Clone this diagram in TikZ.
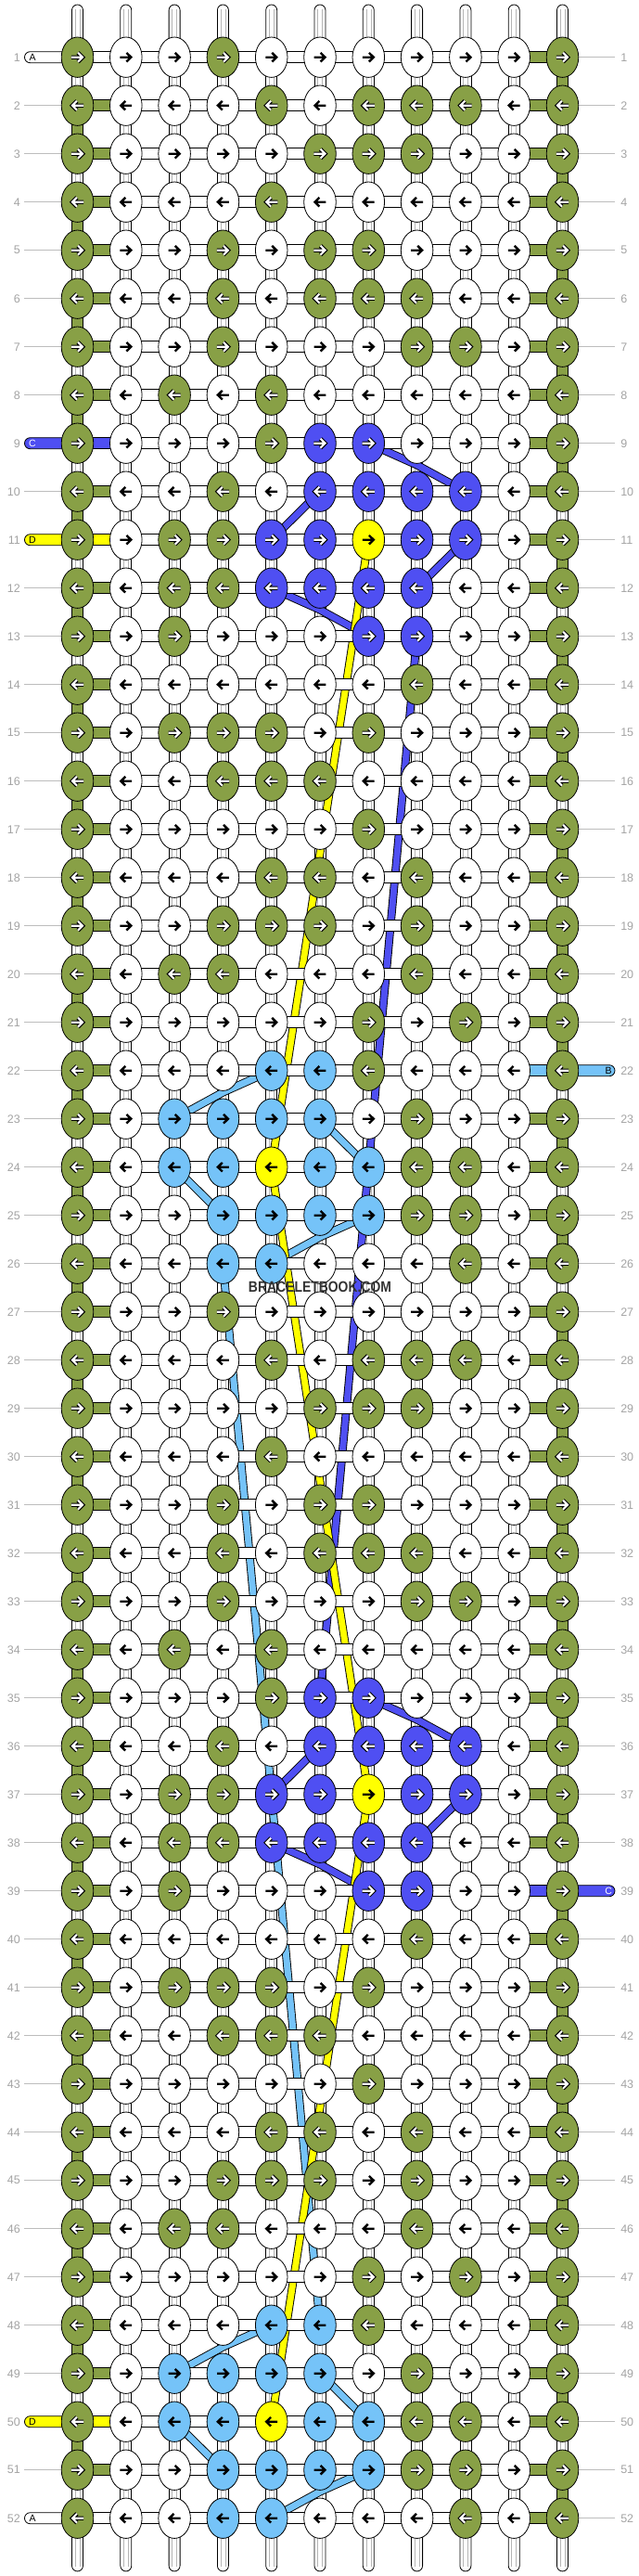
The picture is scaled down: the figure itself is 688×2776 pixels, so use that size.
\documentclass[tikz,border=0pt]{standalone}
\usepackage{fontspec}
\usepackage{graphicx}
\setmainfont{Liberation Sans}
\usetikzlibrary{shapes.geometric}
\definecolor{kG}{HTML}{88A046}
\definecolor{kW}{HTML}{FFFFFF}
\definecolor{kB}{HTML}{4F4FF2}
\definecolor{kY}{HTML}{FFFF00}
\definecolor{kL}{HTML}{75C3F8}
\definecolor{numgray}{HTML}{A3A3A3}
\definecolor{rulegray}{HTML}{BDBDBD}
\definecolor{bargray}{HTML}{B5B5B5}
\definecolor{markgray}{HTML}{333333}
\tikzset{
 knot/.style={ellipse, draw=black, line width=0.8pt, minimum width=34.6pt, minimum height=43.4pt, inner sep=0pt},
 barbox/.style={draw=black, line width=0.8pt},
 numlab/.style={text=numgray, font=\fontsize{12.5}{14}\selectfont, inner sep=0pt},
 stublab/.style={font=\fontsize{10.5}{12}\selectfont, inner sep=0pt},
 thread/.style={double=#1, draw=black, line width=0.9pt, double distance=7pt, line join=miter},
}
\def\styG{1}\def\styW{0}\def\styB{1}\def\styY{0}\def\styL{0}
\def\kWname{kW}
\newcount\kcol
\def\rowoff{0}
\newcommand\drawknot[1]{%
  \node[knot, fill=k#1] (k\currow-\the\kcol) at (\the\kcol,\currow) {};
  \begin{scope}[shift={(\the\kcol,\currow)}, xscale=\arrdir]
    \ifnum\csname sty#1\endcsname=1
      \draw[line width=4.4pt, black, line join=miter] (-6.6pt,0pt) -- (5pt,0pt) (0.6pt,4.9pt) -- (5.5pt,0pt) -- (0.6pt,-4.9pt);
      \draw[line width=2.1pt, white, line join=miter] (-6.6pt,0pt) -- (5pt,0pt) (0.6pt,4.9pt) -- (5.5pt,0pt) -- (0.6pt,-4.9pt);
    \else
      \draw[line width=2.4pt, black, line join=miter] (-6.4pt,0pt) -- (5pt,0pt) (0.6pt,4.8pt) -- (5.5pt,0pt) -- (0.6pt,-4.8pt);
    \fi
  \end{scope}}
\def\parseknot#1{\ifx#1\relax\else\advance\kcol by 1 \drawknot{#1}\expandafter\parseknot\fi}
\newcommand\knotrow[2]{%
  \pgfmathtruncatemacro\currow{#1+\rowoff}%
  \ifodd\currow\relax\def\arrdir{1}\else\def\arrdir{-1}\fi
  \kcol=0 \parseknot#2\relax}
\newcommand\allrows{%
\knotrow{1}{GWWGWWWWWWG}%
\knotrow{2}{GWWWGWGGGWG}%
\knotrow{3}{GWWWWGGGWWG}%
\knotrow{4}{GWWWGWWWWWG}%
\knotrow{5}{GWWGWGGWWWG}%
\knotrow{6}{GWWGWGGGWWG}%
\knotrow{7}{GWWGWWWGGWG}%
\knotrow{8}{GWGWGWWWWWG}%
\knotrow{9}{GWWWGBBWWWG}%
\knotrow{10}{GWWGWBBBBWG}%
\knotrow{11}{GWGGBBYBBWG}%
\knotrow{12}{GWGGBBBBWWG}%
\knotrow{13}{GWGWWWBBWWG}%
\knotrow{14}{GWWWWWWGWWG}%
\knotrow{15}{GWGGGWGWWWG}%
\knotrow{16}{GWWGGGWWWWG}%
\knotrow{17}{GWWWWWGWWWG}%
\knotrow{18}{GWWWGGWGWWG}%
\knotrow{19}{GWWGGGWGWWG}%
\knotrow{20}{GWGGWWWGWWG}%
\knotrow{21}{GWWWWWGWGWG}%
\knotrow{22}{GWWWLLGWWWG}%
\knotrow{23}{GWLLLLWGWWG}%
\knotrow{24}{GWLLYLLGGWG}%
\knotrow{25}{GWWLLLLGGWG}%
\knotrow{26}{GWWLLWWWGWG}}
\begin{document}
\begin{tikzpicture}
\useasboundingbox (0,0) rectangle (688pt,-2776pt);
\begin{scope}[shift={(31.2pt,-9.7pt)}, x=52.3pt, y=-52pt]
% row numbers and rules
\foreach \rn in {1,...,52} {
  \node[numlab, anchor=east] (nl\rn) at (-0.176,\rn) {\rn};
  \node[numlab, anchor=west] (nr\rn) at (12.196,\rn) {\rn};
  \pgfmathtruncatemacro\skipl{(\rn==1)||(\rn==9)||(\rn==11)||(\rn==50)||(\rn==52)}
  \pgfmathtruncatemacro\skipr{(\rn==22)||(\rn==39)}
  \ifnum\skipl=0 \draw[rulegray, line width=0.8pt] (-0.09,\rn) -- (0.8,\rn); \fi
  \ifnum\skipr=0 \draw[rulegray, line width=0.8pt] (11.2,\rn) -- (12.08,\rn); \fi
}
% top and bottom thread stubs
\foreach \cn in {1,...,11} {
  \draw[barbox, fill=white, rounded corners=6pt] ([xshift=-6pt]\cn,-0.09) rectangle ([xshift=6pt]\cn,0.8);
  \draw[bargray, line width=0.6pt] ([xshift=-2.5pt]\cn,0.0) -- ([xshift=-2.5pt]\cn,0.7) ([xshift=2.5pt]\cn,0.0) -- ([xshift=2.5pt]\cn,0.7);
  \draw[barbox, fill=white, rounded corners=6pt] ([xshift=-6pt]\cn,52.2) rectangle ([xshift=6pt]\cn,53.1);
  \draw[bargray, line width=0.6pt] ([xshift=-2.5pt]\cn,52.3) -- ([xshift=-2.5pt]\cn,53.0) ([xshift=2.5pt]\cn,52.3) -- ([xshift=2.5pt]\cn,53.0);
}
% vertical bars
\foreach \rn in {1,...,51} {
  \foreach \cn in {1,...,11} {
    \def\vc{kW}
    \ifnum\cn=1 \ifodd\rn\relax \else \def\vc{kG}\fi \fi
    \ifnum\cn=11 \ifodd\rn\relax \def\vc{kG}\fi \fi
    \draw[barbox, fill=\vc] ([xshift=-6pt]\cn,\rn) rectangle ([xshift=6pt]\cn,\rn+1);
    \ifx\vc\kWname
      \draw[bargray, line width=0.6pt] ([xshift=-2.5pt]\cn,\rn+0.3) -- ([xshift=-2.5pt]\cn,\rn+0.7) ([xshift=2.5pt]\cn,\rn+0.3) -- ([xshift=2.5pt]\cn,\rn+0.7);
    \fi
  }
}
% carried threads
\draw[thread=kB] (7,9) -- (8,9.45) -- (9,10);
\draw[thread=kB] (6,10) -- (5,11);
\draw[thread=kB] (9,11) -- (8,12);
\draw[thread=kB] (5,12) -- (6,12.45) -- (7,13);
\draw[thread=kB] (8,13) -- (6,35);
\draw[thread=kB] (7,35) -- (8,35.45) -- (9,36);
\draw[thread=kB] (6,36) -- (5,37);
\draw[thread=kB] (9,37) -- (8,38);
\draw[thread=kB] (5,38) -- (6,38.45) -- (7,39);
\draw[thread=kL] (5,22) -- (4,22.45) -- (3,23);
\draw[thread=kL] (6,23) -- (7,24);
\draw[thread=kL] (3,24) -- (4,25);
\draw[thread=kL] (7,25) -- (6,25.45) -- (5,26);
\draw[thread=kL] (4,26) -- (6,48);
\draw[thread=kL] (5,48) -- (4,48.45) -- (3,49);
\draw[thread=kL] (6,49) -- (7,50);
\draw[thread=kL] (3,50) -- (4,51);
\draw[thread=kL] (7,51) -- (6,51.45) -- (5,52);
\draw[thread=kY] (7,11) -- (5,24);
\draw[thread=kY] (5,24) -- (7,37);
\draw[thread=kY] (7,37) -- (5,50);
% horizontal bars
\foreach \rn in {1,...,52} {
  \foreach \cn in {1,...,10} {
    \def\hc{kW}
    \ifnum\cn=1 \def\hc{kG}
      \ifnum\rn=1 \def\hc{kW}\fi \ifnum\rn=52 \def\hc{kW}\fi
      \ifnum\rn=9 \def\hc{kB}\fi \ifnum\rn=11 \def\hc{kY}\fi \ifnum\rn=50 \def\hc{kY}\fi
    \fi
    \ifnum\cn=10 \def\hc{kG}
      \ifnum\rn=22 \def\hc{kL}\fi \ifnum\rn=39 \def\hc{kB}\fi
    \fi
    \draw[barbox, fill=\hc] ([yshift=6pt]\cn,\rn) rectangle ([yshift=-6pt]\cn+1,\rn);
  }
}
% side stubs with thread letters
\foreach \rn/\scol/\slab/\stc in {1/kW/A/black, 9/kB/C/white, 11/kY/D/black, 50/kY/D/black, 52/kW/A/black} {
  \draw[barbox, fill=\scol, rounded corners=6pt] ([yshift=6pt]-0.09,\rn) rectangle ([yshift=-6pt]1.1,\rn);
  \node[stublab, text=\stc] (sl\rn) at (0.073,\rn) {\slab};
}
\foreach \rn/\scol/\slab/\stc in {22/kL/B/black, 39/kB/C/white} {
  \draw[barbox, fill=\scol, rounded corners=6pt] ([yshift=6pt]10.9,\rn) rectangle ([yshift=-6pt]12.08,\rn);
  \node[stublab, text=\stc] (sr\rn) at (11.95,\rn) {\slab};
}
% knots
\def\rowoff{0}\allrows
\def\rowoff{26}\allrows
% watermark
\node[font=\bfseries\fontsize{16.3}{18}\selectfont, text=markgray, inner sep=0pt] (wm) at (6,26.48) {\scalebox{0.855}[1]{BRACELETBOOK.COM}};
\end{scope}
\end{tikzpicture}
\end{document}
